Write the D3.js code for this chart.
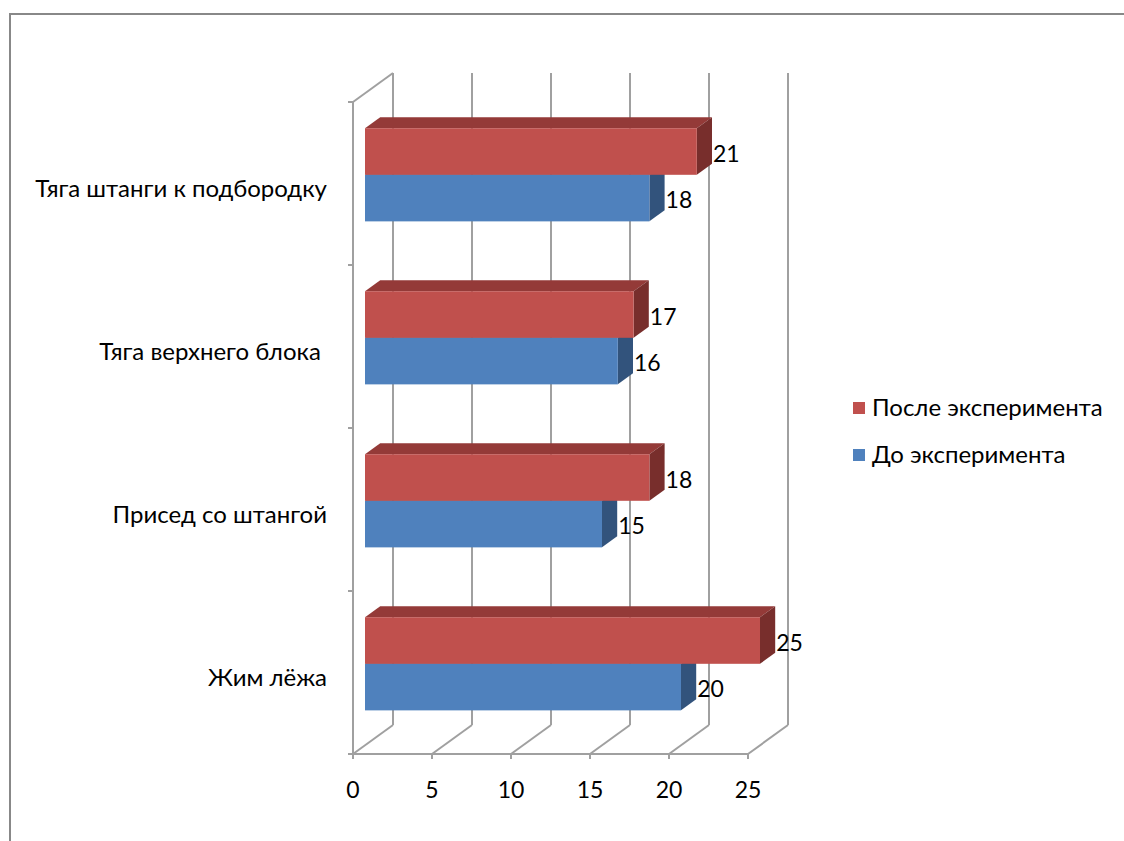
<!DOCTYPE html>
<html>
<head>
<meta charset="utf-8">
<script src="https://cdn.jsdelivr.net/npm/d3@7"></script>
<style>
  body { margin: 0; background: #fff; }
  svg text { font-family: Lato, "Open Sans", sans-serif; fill: #000; }
</style>
</head>
<body>
<svg width="1124" height="841"></svg>
<script>
// data, bottom-to-top like the source chart
const categories = ["Жим лёжа", "Присед со штангой", "Тяга верхнего блока ", "Тяга штанги к подбородку"];
const seriesNames = ["До эксперимента", "После эксперимента"];
const beforeValues = [20, 15, 16, 18];
const afterValues = [25, 18, 17, 21];
const xTicks = [0, 5, 10, 15, 20, 25];

const colors = {
  before: { front: "#4F81BD", top: "#3B6597", side: "#32537C" },
  after: { front: "#C0504D", top: "#943A38", side: "#782E2C" }
};

const svg = d3.select("svg");
const textSize = 24;
const numSize = 23;

// 3d box: front plane + depth offset
const DX = 40, DY = -29;
const d0 = 0.3, d1 = 0.68; // bar depth range
const x = d3.scaleLinear().domain([0, 25]).range([353, 748]);
const y = d3.scaleBand().domain(categories.slice().reverse()).range([102, 754]);
const sub = d3.scaleBand().domain(["after", "before"]).range([0, y.bandwidth()]).paddingOuter(0.75);

const P = (px, py, d) => [px + DX * d, py + DY * d];
const poly = pts => pts.map(p => p.join(",")).join(" ");

// outer border
svg.append("rect")
  .attr("x", 10).attr("y", 14).attr("width", 1130).attr("height", 850)
  .attr("fill", "none").attr("stroke", "#888").attr("stroke-width", 2);

const grid = svg.append("g").attr("stroke", "#a0a0a0").attr("stroke-width", 2).attr("fill", "none");

// back wall gridlines
grid.selectAll(".back").data(xTicks).enter().append("line")
  .attr("x1", d => x(d) + DX).attr("y1", 102 + DY)
  .attr("x2", d => x(d) + DX).attr("y2", 754 + DY);

// floor diagonals
grid.selectAll(".floor").data(xTicks).enter().append("line")
  .attr("x1", d => x(d)).attr("y1", 754)
  .attr("x2", d => x(d) + DX).attr("y2", 754 + DY);

// front axis lines
grid.append("line").attr("x1", x(0)).attr("y1", 754).attr("x2", x(25)).attr("y2", 754);
grid.append("line").attr("x1", x(0)).attr("y1", 102).attr("x2", x(0)).attr("y2", 754);
grid.append("line").attr("x1", x(0)).attr("y1", 102).attr("x2", x(0) + DX).attr("y2", 102 + DY);

// ticks
grid.selectAll(".xt").data(xTicks).enter().append("line")
  .attr("x1", d => x(d)).attr("y1", 754).attr("x2", d => x(d)).attr("y2", 759);
const bounds = y.domain().map(c => y(c)).concat([754]);
grid.selectAll(".yt").data(bounds).enter().append("line")
  .attr("x1", x(0) - 5).attr("y1", d => d).attr("x2", x(0)).attr("y2", d => d);

// x tick labels
svg.append("g").selectAll("text").data(xTicks).enter().append("text")
  .attr("x", d => x(d)).attr("y", 798)
  .attr("text-anchor", "middle").style("font-size", numSize + "px")
  .text(d => d);

// category labels
svg.append("g").selectAll("text").data(categories).enter().append("text")
  .attr("x", 327).attr("y", d => y(d) + y.bandwidth() / 2 + 13)
  .attr("text-anchor", "end").style("font-size", textSize + "px").style("white-space", "pre")
  .text(d => d);

// bars
const rows = [];
categories.forEach((c, i) => {
  rows.push({ cat: c, key: "before", value: beforeValues[i] });
  rows.push({ cat: c, key: "after", value: afterValues[i] });
});

const bars = svg.append("g").selectAll("g").data(rows).enter().append("g");

bars.each(function (d) {
  const g = d3.select(this);
  const c = colors[d.key];
  const xa = x(0), xb = x(d.value);
  const yt = y(d.cat) + sub(d.key), yb = yt + sub.bandwidth();
  g.append("polygon").attr("fill", c.top)
    .attr("points", poly([P(xa, yt, d0), P(xb, yt, d0), P(xb, yt, d1), P(xa, yt, d1)]));
  g.append("polygon").attr("fill", c.side)
    .attr("points", poly([P(xb, yt, d0), P(xb, yb, d0), P(xb, yb, d1), P(xb, yt, d1)]));
  const f = P(xa, yt, d0), e = P(xb, yb, d0);
  g.append("rect").attr("fill", c.front)
    .attr("x", f[0]).attr("y", f[1]).attr("width", e[0] - f[0]).attr("height", e[1] - f[1]);
  g.append("text")
    .attr("x", xb + DX * d1 + 1).attr("y", (f[1] + e[1]) / 2 + 10)
    .style("font-size", numSize + "px")
    .text(d.value);
});

// legend
const legend = svg.append("g");
const legendItems = [
  { name: seriesNames[1], color: colors.after.front, y: 408 },
  { name: seriesNames[0], color: colors.before.front, y: 455 }
];
legend.selectAll("rect").data(legendItems).enter().append("rect")
  .attr("x", 853).attr("y", d => d.y - 6).attr("width", 12).attr("height", 12)
  .attr("fill", d => d.color);
legend.selectAll("text").data(legendItems).enter().append("text")
  .attr("x", 872).attr("y", d => d.y + 8)
  .style("font-size", textSize + "px")
  .text(d => d.name);
</script>
</body>
</html>
